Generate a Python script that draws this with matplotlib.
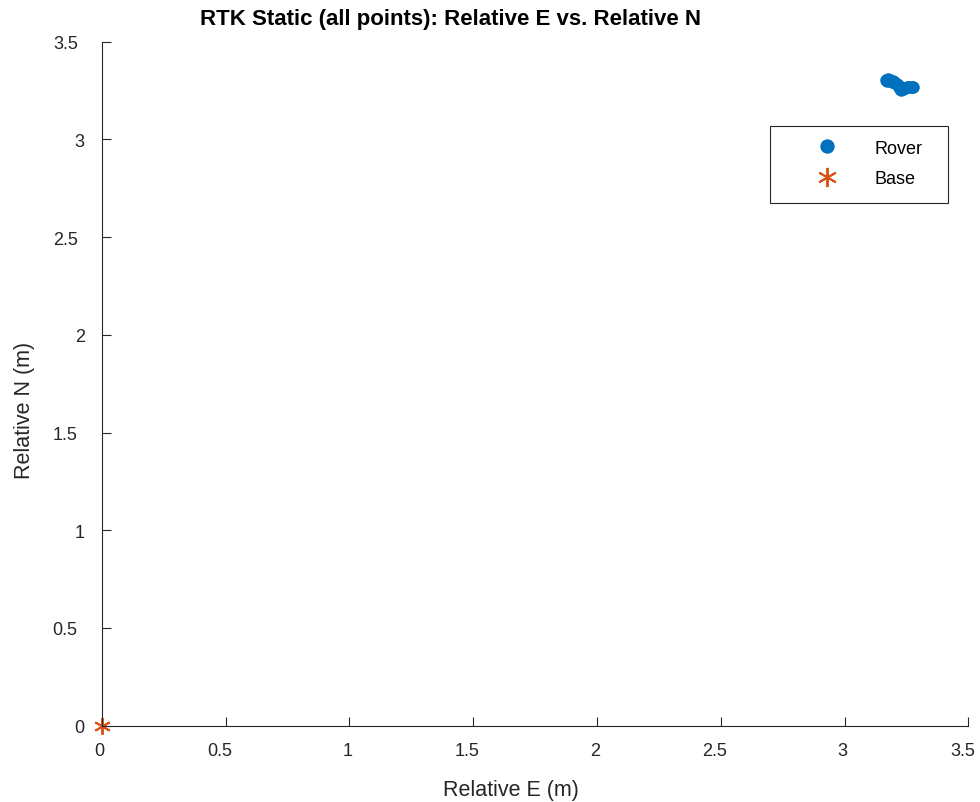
import matplotlib
matplotlib.use("Agg")
import matplotlib.pyplot as plt
from matplotlib.patches import Rectangle
from matplotlib.transforms import ScaledTranslation

plt.rcParams['font.family'] = ['Liberation Sans', 'DejaVu Sans']

rover_e = [3.166, 3.170, 3.175, 3.178, 3.183, 3.188, 3.190, 3.195, 3.198, 3.204,
           3.210, 3.215, 3.220, 3.222, 3.226, 3.230, 3.236, 3.246, 3.252, 3.258,
           3.266, 3.274, 3.278]
rover_n = [3.304, 3.300, 3.308, 3.302, 3.306, 3.300, 3.296, 3.298, 3.292, 3.290,
           3.284, 3.280, 3.272, 3.266, 3.256, 3.252, 3.258, 3.262, 3.266, 3.268,
           3.266, 3.268, 3.266]
base_e = [0.0]
base_n = [0.0]

xticks = [0, 0.5, 1, 1.5, 2, 2.5, 3, 3.5]
yticks = [0, 0.5, 1, 1.5, 2, 2.5, 3, 3.5]

blue = '#0072BD'
orange = '#D95319'
dark = '#262626'

fig = plt.figure(figsize=(9.8, 8.03), dpi=100)
ax = fig.add_axes([0.10378, 0.09502, 0.88429, 0.85181])

ax.plot(rover_e, rover_n, linestyle='none', marker='o', markersize=9,
        color=blue, markeredgecolor=blue, markeredgewidth=0, label='Rover', clip_on=False)
ax.plot(base_e, base_n, linestyle='none', marker=(6, 2, 0), markersize=12,
        color=orange, markeredgecolor=orange, markeredgewidth=1.4, label='Base', clip_on=False)

ax.set_xlim(0, 3.5)
ax.set_ylim(0, 3.5)
ax.set_xticks(xticks)
ax.set_yticks(yticks)
ax.set_xticklabels([f'{t:g}' for t in xticks])
ax.set_yticklabels([f'{t:g}' for t in yticks])

for s in ['top', 'right']:
    ax.spines[s].set_visible(False)
for s in ['left', 'bottom']:
    ax.spines[s].set_color(dark)
    ax.spines[s].set_linewidth(0.8)

ax.tick_params(axis='both', direction='in', length=6.5, width=0.8, colors=dark,
               labelsize=13, labelcolor=dark)
ax.tick_params(axis='x', pad=12)
ax.tick_params(axis='y', pad=11.5)

# small horizontal nudges of tick labels (pixels) to mimic the reference rendering
for tick, val in zip(ax.xaxis.get_major_ticks(), xticks):
    dx = -2 if float(val).is_integer() else -6
    tick.label1.set_transform(tick.label1.get_transform() +
                              ScaledTranslation(dx / 100, 0, fig.dpi_scale_trans))
for tick, val in zip(ax.yaxis.get_major_ticks(), yticks):
    dx = -1 if float(val).is_integer() else -8
    tick.label1.set_transform(tick.label1.get_transform() +
                              ScaledTranslation(dx / 100, 0, fig.dpi_scale_trans))

ax.set_xlabel('Relative E (m)', fontsize=15.5, color=dark)
ax.set_ylabel('Relative N (m)', fontsize=15.5, color=dark)
ax.xaxis.set_label_coords(0.4723, -0.078)
ax.yaxis.set_label_coords(-0.0774, 0.463)

ax.set_title('RTK Static (all points): Relative E vs. Relative N', fontsize=16,
             fontweight='bold', color='black', x=0.403, pad=12.5)

leg = ax.legend(loc='upper left', bbox_to_anchor=(0.8162, 0.8569), frameon=False,
                fontsize=13, borderpad=0, handletextpad=1.6, labelspacing=0.74,
                handlelength=2.0, borderaxespad=0, markerscale=1.15)
for t in leg.get_texts():
    t.set_color('black')

ax.add_patch(Rectangle((0.7712, 0.7642), 0.2054, 0.1126, transform=ax.transAxes,
                       fill=False, edgecolor=dark, linewidth=0.8, clip_on=False))

fig.savefig('out.png', dpi=100)
